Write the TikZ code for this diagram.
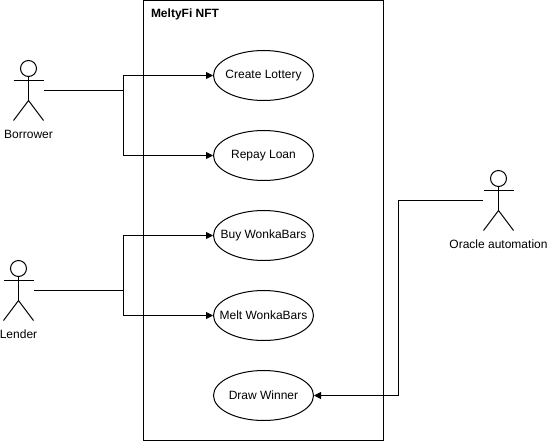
\documentclass[tikz,border=0pt]{standalone}
\usepackage{fontspec}
\setmainfont{Liberation Sans}
\usetikzlibrary{shapes.geometric,arrows.meta}
\newcommand{\uctext}[1]{\makebox[0pt][c]{#1}}
\tikzset{
  every path/.style={line width=1pt},
  lbl/.style={font=\fontsize{12}{14}\selectfont,inner sep=0pt,text=black},
  usecase/.style={ellipse,draw=black,fill=white,minimum width=100pt,minimum height=50pt,inner sep=0pt,lbl},
  frameb/.style={draw=black,fill=white,minimum width=240pt,minimum height=440pt,inner sep=0pt},
  actorbox/.style={minimum width=30pt,minimum height=60pt,inner sep=0pt},
  stick/.pic={
    \draw (0,-22) circle[radius=8];
    \draw (0,-14) -- (0,10);
    \draw (-15,-10) -- (15,-10);
    \draw (-15,30) -- (0,10) -- (15,30);
  },
  conn/.style={draw=black,line width=1pt},
  arr/.style={conn,-{Triangle[length=7pt,width=7pt]}}
}
\begin{document}
\begin{tikzpicture}[x=1pt,y=-1pt]
\useasboundingbox (0,0) rectangle (548,441);
\fill[white] (0,0) rectangle (548,441);
\node[frameb] (sys) at (263.5,220.5) {};
\node[lbl,anchor=base west,font=\fontsize{12}{14}\selectfont\bfseries] (title) at (150.5,18) {MeltyFi NFT};
\node[usecase] (create) at (263.5,75.5) {\uctext{Create Lottery}};
\node[usecase] (repay) at (263.5,155.5) {\uctext{Repay Loan}};
\node[usecase] (buy) at (263.5,235.5) {\uctext{Buy WonkaBars}};
\node[usecase] (melt) at (263.5,315.5) {\uctext{Melt WonkaBars}};
\node[usecase] (draw) at (263.5,395.5) {\uctext{Draw Winner}};
\node[actorbox] (borrower) at (28.5,90.5) {};
\node[actorbox] (lender) at (18.5,290.5) {};
\node[actorbox] (oracle) at (498.5,200.5) {};
\pic at (borrower.center) {stick};
\pic at (lender.center) {stick};
\pic at (oracle.center) {stick};
\node[lbl] (lb) at (28.5,134) {Borrower};
\node[lbl] (ll) at (18.5,334) {Lender};
\node[lbl] (lo) at (498.5,244) {Oracle automation};
\coordinate (jb) at (123.5,90.5);
\coordinate (jl) at (123.5,290.5);
\coordinate (jo) at (398.5,200.5);
\draw[conn] (borrower.east) -- (jb);
\draw[arr] (jb) |- (create.west);
\draw[arr] (jb) |- (repay.west);
\draw[conn] (lender.east) -- (jl);
\draw[arr] (jl) |- (buy.west);
\draw[arr] (jl) |- (melt.west);
\draw[arr] (oracle.west) -- (jo) |- (draw.east);
\end{tikzpicture}
\end{document}
